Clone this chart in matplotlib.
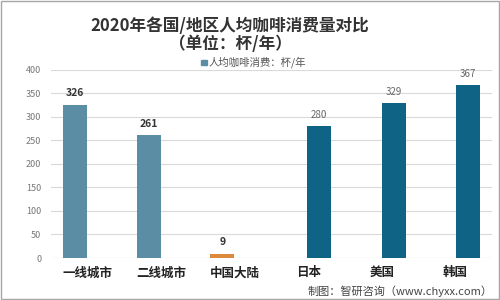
import matplotlib.pyplot as plt

plt.rcParams['font.family'] = ['Noto Sans CJK SC', 'DejaVu Sans']

categories = ["一线城市", "二线城市", "中国大陆", "日本", "美国", "韩国"]
values = [326, 261, 9, 280, 329, 367]
colors = ["#5B8DA5", "#5B8DA5", "#DA8A3A", "#0F6485", "#0F6485", "#0F6485"]
# bars sit left or right of the category centre (two series in the source chart)
offsets = [-0.17, -0.17, -0.17, 0.15, 0.17, 0.17]

fig = plt.figure(figsize=(5, 3), dpi=100)
ax = fig.add_axes([0.102, 0.14, 0.882, 0.627])

x = [i + o for i, o in enumerate(offsets)]
bars = ax.bar(x, values, width=0.33, color=colors, zorder=3)

for i, (b, v) in enumerate(zip(bars, values)):
    if i < 3:
        ax.text(b.get_x() + b.get_width() / 2, v + 14, str(v), ha='center', va='bottom',
                fontsize=7.5, fontweight='bold', color='#333333')
    else:
        ax.text(b.get_x() + b.get_width() / 2, v + 14, str(v), ha='center', va='bottom',
                fontsize=7, color='#666666')

ax.set_xlim(-0.5, 5.5)
ax.set_ylim(0, 400)
ax.set_yticks(range(0, 401, 50))
ax.set_xticks(range(len(categories)))
ax.set_xticklabels(categories, fontsize=9, fontweight='bold', color='#222222')
ax.tick_params(axis='y', labelsize=6.5, colors='#777777', length=0, pad=7)
ax.tick_params(axis='x', length=0, pad=6)
ax.grid(axis='y', color='#D9D9D9', linewidth=0.8, zorder=0)
for s in ax.spines.values():
    s.set_visible(False)
ax.axhline(0, color='#D9D9D9', linewidth=0.8, zorder=1)

fig.text(0.46, 0.915, "2020年各国/地区人均咖啡消费量对比", ha='center', va='center',
         fontsize=12, fontweight='bold', color='#333333')
fig.text(0.46, 0.852, "（单位：杯/年）", ha='center', va='center',
         fontsize=12, fontweight='bold', color='#333333')

# legend
fig.patches.append(plt.Rectangle((0.402, 0.782), 0.011, 0.018, transform=fig.transFigure,
                                 color="#5B8DA5"))
fig.text(0.418, 0.792, "人均咖啡消费：杯/年", ha='left', va='center', fontsize=7.5, color='#555555')

fig.text(0.985, 0.028, "制图：智研咨询（www.chyxx.com）", ha='right', va='center',
         fontsize=8, color='#444444')

fig.patches.append(plt.Rectangle((0.002, 0.003), 0.995, 0.993, transform=fig.transFigure,
                                 fill=False, edgecolor='#A6A6A6', linewidth=1))

fig.savefig("out.png", dpi=100)
